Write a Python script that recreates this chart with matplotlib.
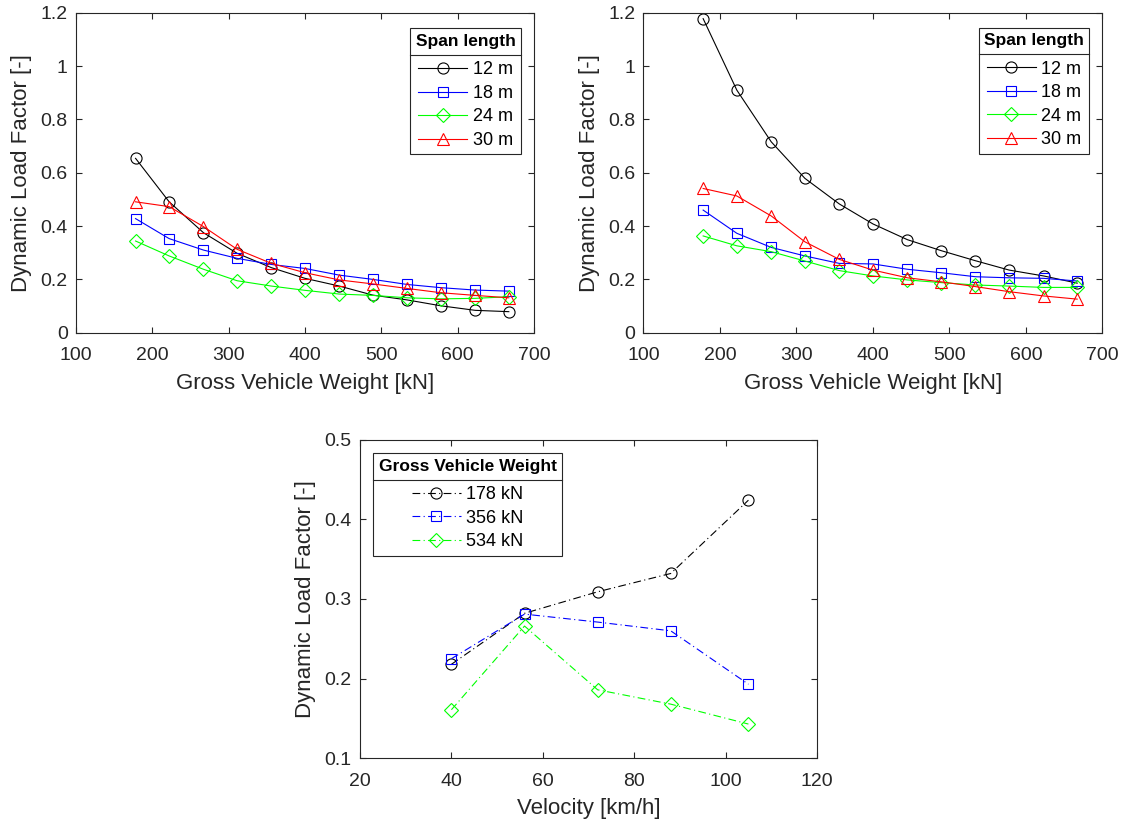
"""Dynamic load factor vs gross vehicle weight and velocity."""

import numpy as np
import matplotlib
matplotlib.use("Agg")
import matplotlib.pyplot as plt
from matplotlib.ticker import FormatStrFormatter
from matplotlib.lines import Line2D

plt.rcParams.update({
    "font.family": ["Liberation Sans", "DejaVu Sans"],
    "font.size": 14,
    "axes.edgecolor": "#262626",
    "axes.linewidth": 0.8,
    "xtick.color": "#262626",
    "ytick.color": "#262626",
    "xtick.direction": "in",
    "ytick.direction": "in",
    "xtick.top": True,
    "ytick.right": True,
    "xtick.major.size": 4,
    "ytick.major.size": 4,
    "xtick.major.width": 0.8,
    "ytick.major.width": 0.8,
    "xtick.major.pad": 10.5,
    "ytick.major.pad": 6,
    "xtick.labelsize": 14,
    "ytick.labelsize": 14,
    "axes.labelsize": 16,
    "axes.labelcolor": "#262626",
})

# gross vehicle weight [kN]
gvw = [178, 222, 267, 311, 356, 400, 445, 489, 534, 578, 623, 667]
spans = ["12 m", "18 m", "24 m", "30 m"]

# left panel
dlf_left = {
    "12 m": [0.654, 0.491, 0.375, 0.298, 0.244, 0.204, 0.175, 0.141, 0.123, 0.101, 0.084, 0.079],
    "18 m": [0.428, 0.353, 0.310, 0.279, 0.256, 0.241, 0.216, 0.200, 0.181, 0.169, 0.160, 0.156],
    "24 m": [0.344, 0.288, 0.238, 0.195, 0.175, 0.159, 0.145, 0.140, 0.131, 0.127, 0.129, 0.135],
    "30 m": [0.491, 0.473, 0.398, 0.313, 0.260, 0.225, 0.198, 0.183, 0.166, 0.150, 0.140, 0.131],
}

# right panel
dlf_right = {
    "12 m": [1.178, 0.910, 0.716, 0.579, 0.483, 0.408, 0.349, 0.308, 0.270, 0.235, 0.213, 0.186],
    "18 m": [0.460, 0.373, 0.320, 0.288, 0.260, 0.258, 0.238, 0.225, 0.210, 0.206, 0.204, 0.194],
    "24 m": [0.363, 0.326, 0.304, 0.269, 0.233, 0.213, 0.198, 0.188, 0.179, 0.175, 0.170, 0.170],
    "30 m": [0.541, 0.513, 0.438, 0.341, 0.275, 0.235, 0.206, 0.191, 0.173, 0.154, 0.138, 0.126],
}

# bottom panel
velocity = [40, 56, 72, 88, 105]
weights = ["178 kN", "356 kN", "534 kN"]
dlf_vel = {
    "178 kN": [0.218, 0.282, 0.309, 0.332, 0.424],
    "356 kN": [0.225, 0.281, 0.271, 0.260, 0.193],
    "534 kN": [0.161, 0.266, 0.186, 0.168, 0.143],
}

span_style = {
    "12 m": dict(color="k", marker="o", markersize=8),
    "18 m": dict(color="b", marker="s", markersize=6.5),
    "24 m": dict(color=(0, 1, 0), marker="D", markersize=7),
    "30 m": dict(color="r", marker="^", markersize=9),
}
weight_style = {
    "178 kN": dict(color="k", marker="o", markersize=8),
    "356 kN": dict(color="b", marker="s", markersize=6.5),
    "534 kN": dict(color=(0, 1, 0), marker="D", markersize=7),
}
dashdot = (0, (7, 3, 1, 3))

fig = plt.figure(figsize=(11.23, 8.24), dpi=100)
ax1 = fig.add_axes([0.0677, 0.5962, 0.4078, 0.3883])
ax2 = fig.add_axes([0.5730, 0.5962, 0.4087, 0.3883])
ax3 = fig.add_axes([0.3206, 0.0797, 0.4069, 0.3868])


def add_legend(ax, title, anchor, loc):
    leg = ax.legend(
        title=title, loc=loc, bbox_to_anchor=anchor, borderaxespad=0,
        fontsize=13, title_fontproperties={"weight": "bold", "size": 12.5},
        handlelength=2.7, handletextpad=0.3, labelspacing=0.36,
        borderpad=0.3, fancybox=False, framealpha=1, edgecolor="#262626",
        numpoints=1,
    )
    leg.get_frame().set_linewidth(0.8)
    leg._legend_box.sep = 9
    return leg


for ax, data in [(ax1, dlf_left), (ax2, dlf_right)]:
    for s in spans:
        ax.plot(gvw, data[s], linewidth=0.8, markerfacecolor="none",
                markeredgewidth=0.8, label=s, **span_style[s])
    ax.set_xlim(100, 700)
    ax.set_ylim(0, 1.2)
    ax.set_xticks(np.arange(100, 701, 100))
    ax.set_yticks(np.arange(0, 1.21, 0.2))
    ax.yaxis.set_major_formatter(FormatStrFormatter("%g"))
    ax.set_xlabel("Gross Vehicle Weight [kN]", labelpad=6)
    ax.set_ylabel("Dynamic Load Factor [-]", labelpad=6)

for w in weights:
    ax3.plot(velocity, dlf_vel[w], linewidth=0.8, linestyle=dashdot,
             markerfacecolor="none", markeredgewidth=0.8, label=w,
             **weight_style[w])
ax3.set_xlim(20, 120)
ax3.set_ylim(0.1, 0.5)
ax3.set_xticks(np.arange(20, 121, 20))
ax3.set_yticks(np.arange(0.1, 0.51, 0.1))
ax3.yaxis.set_major_formatter(FormatStrFormatter("%g"))
ax3.set_xlabel("Velocity [km/h]", labelpad=6)
ax3.set_ylabel("Dynamic Load Factor [-]", labelpad=6)

legs = [
    add_legend(ax1, "Span length", (0.9716, 0.951), "upper right"),
    add_legend(ax2, "Span length", (0.9716, 0.953), "upper right"),
    add_legend(ax3, "Gross Vehicle Weight", (0.029, 0.957), "upper left"),
]

# MATLAB-style rule under the legend title
fig.canvas.draw()
inv = fig.transFigure.inverted()
for leg in legs:
    box = leg.get_frame().get_window_extent()
    tbox = leg.get_title().get_window_extent()
    first = leg.get_texts()[0].get_window_extent()
    y = 0.5 * (tbox.y0 + first.y1)
    (x0, yy), (x1, _) = inv.transform([(box.x0, y), (box.x1, y)])
    fig.add_artist(Line2D([x0, x1], [yy, yy], color="#262626", linewidth=0.8))

fig.savefig("out.png", dpi=100)
